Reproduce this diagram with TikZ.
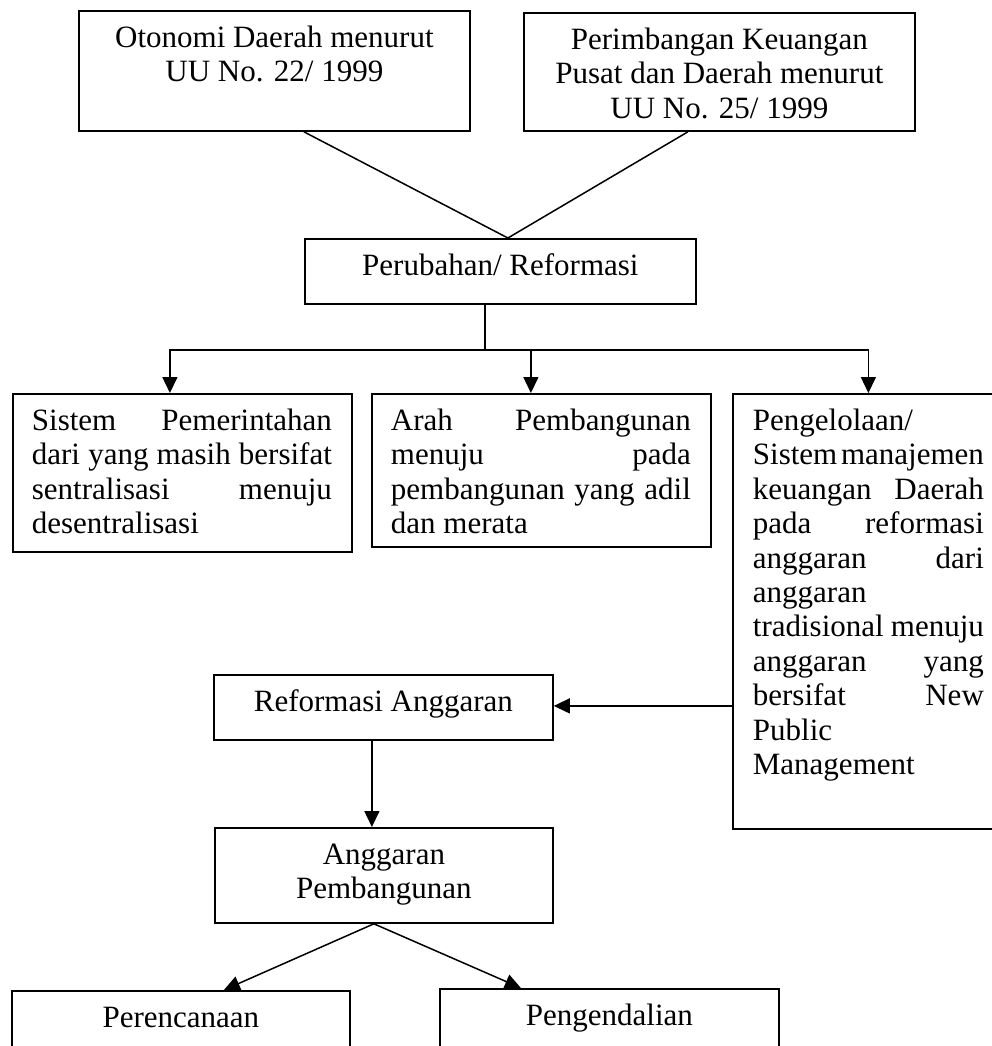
\documentclass[tikz,border=0pt]{standalone}
\usepackage{fontspec}
\setmainfont{Liberation Serif}
\usetikzlibrary{arrows.meta,calc}
\newcommand{\tb}[3]{\parbox[c][#2][t]{#1}{\fontsize{15.5pt}{17.2pt}\selectfont\parindent=0pt\parfillskip=0pt plus 1fil #3}}
\newcommand{\fl}{\rule{0pt}{18.3pt}}
\newcommand{\js}{\leftskip=9.5pt\rightskip=10pt}
\begin{document}
\begin{tikzpicture}[x=0.5pt,y=-0.5pt,
  box/.style={draw,line width=0.9pt,inner sep=0pt,anchor=north west},
  conn/.style={line width=0.75pt},
  arr/.style={conn,-{Triangle[length=8pt,width=7.5pt]}}]
\useasboundingbox (0,0) rectangle (992,1046);
% top boxes
\node[box] (b1) at (78,10) {\tb{195.5pt}{60pt}{\centering\fl Otonomi Daerah menurut\\UU No. 22/ 1999}};
\node[box] (b2) at (523,12) {\tb{195.5pt}{59pt}{\centering\fl Perimbangan Keuangan\\Pusat dan Daerah menurut\\UU No. 25/ 1999}};
\node[box] (b3) at (304,238) {\tb{195.5pt}{32.5pt}{\centering\fl Perubahan/ Reformasi}};
% middle row
\node[box] (b4) at (12,393) {\tb{169.5pt}{79pt}{\js\fl Sistem\hfill Pemerintahan\\dari\hfill yang\hfill masih\hfill bersifat\\sentralisasi\hfill menuju\\desentralisasi}};
\node[box] (b5) at (371,393) {\tb{169.5pt}{76.5pt}{\js\fl Arah\hfill Pembangunan\\menuju\hfill pada\\pembangunan\hfill yang\hfill adil\\dan merata}};
\node[box] (b6) at (732,393) {\tb{135.5pt}{217.5pt}{\leftskip=10pt\rightskip=10pt\fl Pengelolaan/\\Sistem\hfill manajemen\\keuangan\hfill Daerah\\pada\hfill reformasi\\anggaran\hfill dari\\anggaran\\tradisional\hfill menuju\\anggaran\hfill yang\\bersifat\hfill New\\Public\\Management}};
% lower boxes
\node[box] (b7) at (213,674) {\tb{169.5pt}{32.5pt}{\centering\fl Reformasi Anggaran}};
\node[box] (b8) at (214,827) {\tb{169pt}{47.5pt}{\centering\fl Anggaran\\Pembangunan}};
\node[box] (b9) at (11,990) {\tb{169pt}{50pt}{\centering\fl Perencanaan}};
\node[box] (b10) at (439,988) {\tb{169.5pt}{50pt}{\centering\fl Pengendalian}};
% connectors
\coordinate (j) at ([xshift=3.75pt]b3.north);
\draw[conn] ([xshift=14.75pt]b1.south) -- (j);
\draw[conn] ([xshift=-15.75pt]b2.south) -- (j);
\coordinate (s) at ([xshift=-7.75pt]b3.south);
\draw[arr] (s) -- ++(0,45) -| ([xshift=-6.25pt]b4.north);
\draw[arr] (s) -- ++(0,45) -| ([xshift=-5.25pt]b5.north);
\draw[arr] (s) -- ++(0,45) -| (b6.north);
\coordinate (p) at ([yshift=-47.25pt]b6.west);
\draw[arr] (p) -- (p -| b7.east);
\coordinate (r) at ([xshift=-5.75pt]b7.south);
\draw[arr] (r) -- (r |- b8.north);
\coordinate (q) at ([xshift=-5pt]b8.south);
\draw[arr] (q) -- ([xshift=21.5pt]b9.north);
\draw[arr] (q) -- ([xshift=-44.25pt]b10.north);
\end{tikzpicture}
\end{document}
